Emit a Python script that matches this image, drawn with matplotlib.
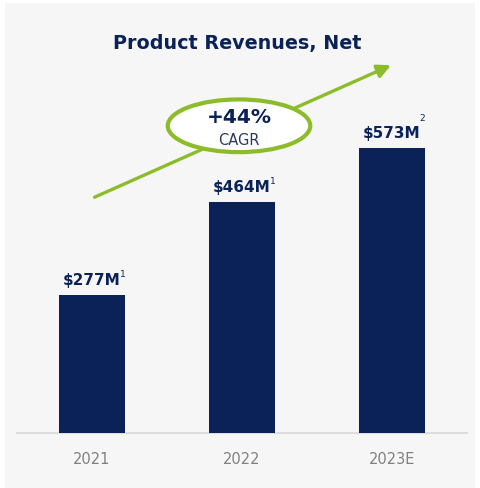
import matplotlib.pyplot as plt
from matplotlib.patches import Ellipse, Rectangle

years = ['2021', '2022', '2023E']
revenues = [277, 464, 573]
labels = ['$277M', '$464M', '$573M']
notes = ['1', '1', '2']

navy = '#0b2259'
green = '#8cbc2a'

fig = plt.figure(figsize=(4.8, 4.89), dpi=100)
fig.patch.set_facecolor('white')
# light grey slide panel
fig.add_artist(Rectangle((5 / 480, 0), 470 / 480, 485 / 489,
                         transform=fig.transFigure, facecolor='#f6f6f6',
                         edgecolor='none', zorder=0))

ax = fig.add_axes([17 / 480, 55 / 489, 450 / 480, 431 / 489])
ax.set_facecolor('none')
ax.set_xlim(-0.5, 2.5)
ax.set_ylim(0, 867)

x = list(range(len(years)))
ax.bar(x, revenues, width=0.44, color=navy, zorder=3)

for i, v in enumerate(revenues):
    ax.annotate(labels[i], (i, v), xytext=(0, 6), textcoords='offset points',
                ha='center', va='bottom', fontsize=11, fontweight='bold',
                color=navy, zorder=4)
    up = 16 if notes[i] == '1' else 22
    ax.annotate(notes[i], (i, v), xytext=(22, up), textcoords='offset points',
                ha='center', va='center', fontsize=6.5, color=navy, zorder=4)

for s in ['top', 'right', 'left']:
    ax.spines[s].set_visible(False)
ax.spines['bottom'].set_color('#dddddd')
ax.spines['bottom'].set_linewidth(1.5)
ax.set_yticks([])
ax.set_xticks(x)
ax.set_xticklabels(years, fontsize=10.5, color='#808080')
ax.tick_params(axis='x', length=0, pad=13)

# growth arrow and CAGR bubble
ax.annotate('', xy=(2.01, 742), xytext=(0.0, 472),
            arrowprops=dict(arrowstyle='-|>,head_length=0.8,head_width=0.4',
                            color=green, lw=2.4), zorder=5)
ax.add_patch(Ellipse((0.98, 618), 0.95, 106, facecolor='white',
                     edgecolor=green, lw=3, zorder=6))
ax.text(0.98, 636, '+44%', ha='center', va='center', fontsize=14.5,
        fontweight='bold', color=navy, zorder=7)
ax.text(0.98, 590, 'CAGR', ha='center', va='center', fontsize=10.5,
        color='#2a3a5e', zorder=7)

fig.text(237 / 480, 1 - 43 / 489, 'Product Revenues, Net', ha='center',
         va='center', fontsize=13.8, fontweight='bold', color=navy)

fig.savefig('out.png', dpi=100, facecolor=fig.get_facecolor())
